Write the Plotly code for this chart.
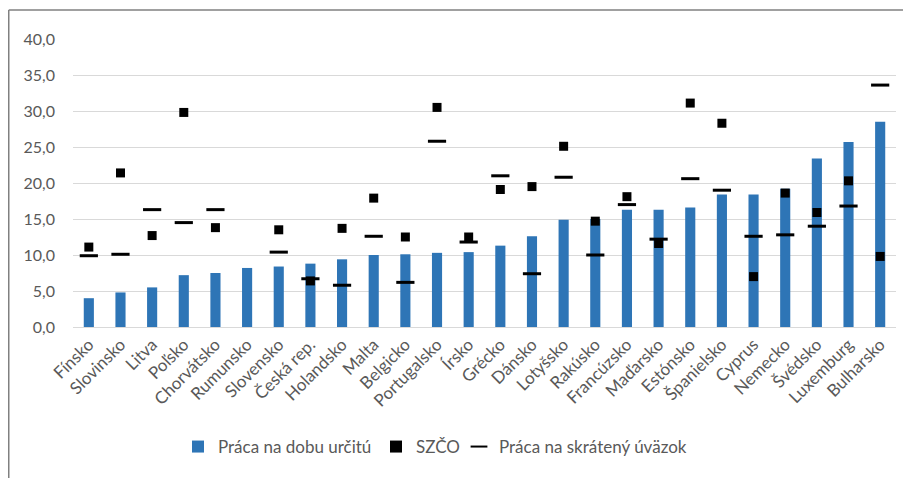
import plotly.graph_objects as go

countries = ["Fínsko", "Slovinsko", "Litva", "Poľsko", "Chorvátsko", "Rumunsko", "Slovensko",
             "Česká rep.", "Holandsko", "Malta", "Belgicko", "Portugalsko", "Írsko", "Grécko",
             "Dánsko", "Lotyšsko", "Rakúsko", "Francúzsko", "Maďarsko", "Estónsko", "Španielsko",
             "Cyprus", "Nemecko", "Švédsko", "Luxemburg", "Bulharsko"]
fixed_term = [4.0, 4.8, 5.5, 7.2, 7.5, 8.2, 8.4, 8.8, 9.4, 10.0, 10.1, 10.3, 10.4, 11.3,
              12.6, 14.9, 15.0, 16.3, 16.3, 16.6, 18.4, 18.4, 19.2, 23.4, 25.7, 28.5]
szco = [11.1, 21.4, 12.7, 29.8, 13.8, None, 13.5, 6.4, 13.7, 17.9, 12.5, 30.5, 12.5, 19.1,
        19.5, 25.1, 14.7, 18.1, 11.6, 31.1, 28.3, 7.0, 18.6, 15.9, 20.3, 9.8]
part_time = [9.9, 10.1, 16.3, 14.5, 16.3, None, 10.4, 6.7, 5.8, 12.6, 6.2, 25.8, 11.8, 21.0,
             7.4, 20.8, 10.0, 17.0, 12.2, 20.6, 19.0, 12.6, 12.8, 14.0, 16.8, 33.6]
y_ticks = [0, 5, 10, 15, 20, 25, 30, 35, 40]

FONT = "Lato, 'Open Sans', sans-serif"
GREY = "#595959"

fig = go.Figure()
fig.add_trace(go.Bar(x=countries, y=fixed_term, name="Práca na dobu určitú", legend="legend",
                     marker=dict(color="#2E75B6", line=dict(width=0))))
fig.add_trace(go.Scatter(x=countries, y=szco, name="SZČO", mode="markers", legend="legend2",
                         marker=dict(symbol="square", size=9, color="black")))
fig.add_trace(go.Scatter(x=countries, y=part_time, name="Práca na skrátený úväzok", mode="markers",
                         legend="legend3",
                         marker=dict(symbol="line-ew", size=13, color="black",
                                     line=dict(width=3, color="black"))))

# page body has an 8px margin, so figure coordinates are page coordinates minus 8;
# the figure runs to the right and bottom window edges
OFF = 8
W, H = 911 - OFF, 478 - OFF
L, R, T, B = 73 - OFF, 896 - OFF, 39 - OFF, 327 - OFF
pw, ph = R - L, B - T

def px(x):
    return (x - L) / pw

def py(y):
    return (B - y) / ph

# frame (top and left edges visible)
fig.add_shape(type="line", xref="paper", yref="paper",
              x0=px(0.75), x1=px(W + 5), y0=py(2), y1=py(2),
              line=dict(color="#808080", width=1.5))
fig.add_shape(type="line", xref="paper", yref="paper",
              x0=px(0.75), x1=px(0.75), y0=py(2), y1=py(H + 5),
              line=dict(color="#808080", width=1.5))

leg_y = (H - (447 - OFF)) / H

def leg(text_start_page):
    return dict(orientation="h", xref="container", yref="container",
                x=(text_start_page - OFF - 41) / W, xanchor="left", y=leg_y, yanchor="middle",
                font=dict(family=FONT, size=17, color=GREY), itemsizing="constant",
                bgcolor="rgba(0,0,0,0)")

fig.update_layout(
    width=W, height=H,
    margin=dict(l=L, r=W - R, t=T, b=H - B, autoexpand=False),
    plot_bgcolor="white", paper_bgcolor="white",
    separators=", ",
    bargap=0.68,
    font=dict(family=FONT, color=GREY, size=16),
    showlegend=True,
    legend=leg(219),
    legend2=leg(417),
    legend3=leg(500),
    xaxis=dict(tickangle=-45, showgrid=False, showline=True, linecolor="#d9d9d9",
               automargin=False, range=[-0.5, len(countries) - 0.5],
               ticks="", tickfont=dict(size=17, color=GREY), fixedrange=True),
    yaxis=dict(range=[0, 40], tickvals=y_ticks, tickformat=".1f", showgrid=True,
               automargin=False,
               gridcolor="#d9d9d9", gridwidth=1, zeroline=False, showline=False,
               ticks="", ticklabelstandoff=17, tickfont=dict(size=16, color=GREY)),
)

fig.write_html("out.html")
